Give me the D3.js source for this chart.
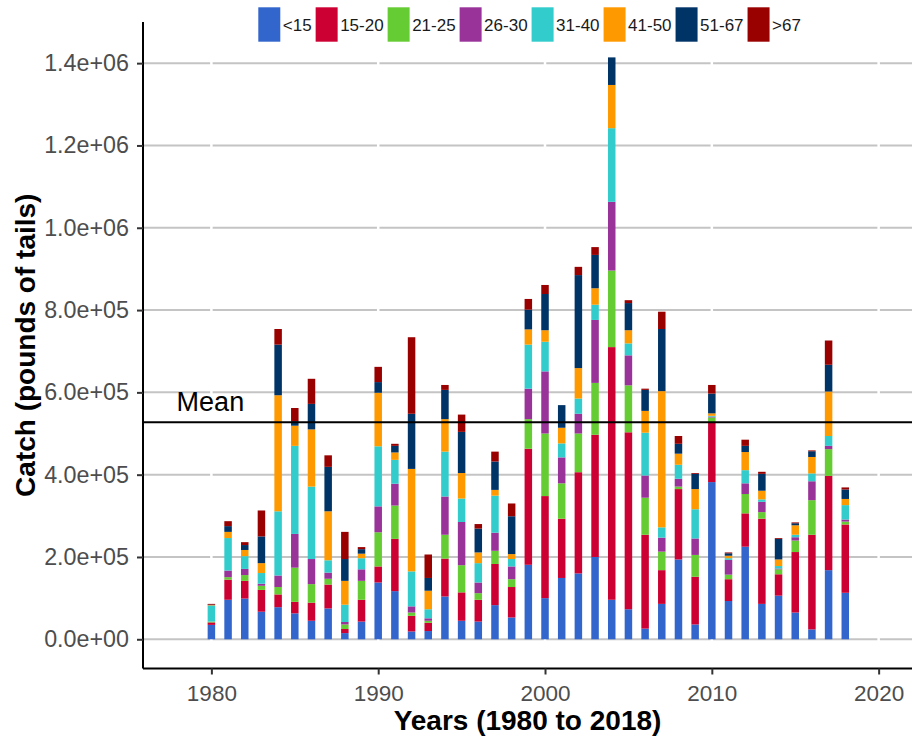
<!DOCTYPE html>
<html>
<head>
<meta charset="utf-8">
<script src="https://cdn.jsdelivr.net/npm/d3@7"></script>
<style>
  body { margin: 0; background: #fff; }
  text { font-family: "Liberation Sans", Arial, sans-serif; }
</style>
</head>
<body>
<div id="chart"></div>
<script>
// catch by size class, thousands of pounds of tails, 1980-2018
var years = d3.range(1980, 2019);
var groups = ["<15", "15-20", "21-25", "26-30", "31-40", "41-50", "51-67", ">67"];
var colors = ["#3366CC", "#CC0033", "#66CC33", "#993399", "#33CCCC", "#FF9900", "#003366", "#990000"];

var lt15   = [35, 96, 99, 67, 78, 63, 45, 75, 15, 43, 138, 117, 19, 20, 104, 45, 43, 83, 53, 181, 100, 149, 160, 200, 96, 73, 26, 86, 194, 36, 382, 93, 225, 86, 106, 65, 24, 168, 113];
var s15_20 = [6, 49, 43, 53, 31, 28, 44, 58, 10, 53, 39, 127, 38, 20, 92, 69, 53, 100, 74, 282, 248, 144, 246, 297, 614, 430, 228, 82, 171, 116, 144, 53, 81, 207, 52, 147, 230, 229, 166];
var s21_25 = [2, 6, 14, 10, 18, 83, 45, 14, 11, 46, 83, 81, 8, 5, 58, 66, 16, 32, 19, 72, 152, 86, 94, 126, 186, 114, 90, 45, 6, 53, 13, 11, 47, 16, 12, 28, 84, 65, 7];
var s26_30 = [0, 16, 15, 5, 28, 82, 61, 15, 6, 28, 63, 53, 15, 6, 93, 105, 26, 44, 31, 74, 151, 63, 48, 153, 167, 73, 54, 34, 19, 40, 2, 36, 26, 25, 2, 8, 46, 8, 5];
var s31_40 = [39, 79, 31, 26, 156, 214, 176, 30, 42, 27, 146, 58, 85, 22, 109, 57, 47, 90, 18, 107, 72, 34, 37, 37, 179, 29, 104, 25, 34, 71, 2, 4, 32, 6, 6, 6, 19, 24, 35];
var s41_50 = [1, 15, 15, 24, 282, 49, 139, 119, 58, 11, 130, 18, 249, 45, 79, 62, 26, 14, 12, 37, 28, 38, 74, 40, 105, 32, 53, 331, 27, 49, 6, 6, 44, 21, 16, 23, 40, 108, 15];
var s51_67 = [1, 14, 12, 65, 123, 11, 62, 108, 53, 11, 26, 16, 134, 31, 71, 100, 58, 69, 92, 48, 88, 55, 226, 81, 67, 66, 51, 151, 24, 37, 48, 6, 15, 41, 50, 5, 14, 65, 23];
var gt67   = [2, 12, 7, 63, 38, 32, 61, 28, 66, 5, 37, 5, 186, 57, 12, 42, 11, 24, 31, 26, 22, 0, 20, 19, 0, 7, 3, 42, 19, 2, 21, 2, 15, 5, 2, 2, 2, 59, 5];

var yTicks = [0, 200000, 400000, 600000, 800000, 1000000, 1200000, 1400000];
var xTicks = [1980, 1990, 2000, 2010, 2020];

var series = [lt15, s15_20, s21_25, s26_30, s31_40, s41_50, s51_67, gt67];
var table = years.map(function(y, i) {
  var row = { year: y };
  groups.forEach(function(g, k) { row[g] = series[k][i] * 1000; });
  return row;
});
var totals = table.map(function(r) { return d3.sum(groups, function(g) { return r[g]; }); });
var meanCatch = d3.mean(totals);

var W = 912, H = 743;
var pL = 143, pR = 912, pT = 22, pB = 668.5;

var svg = d3.select('#chart').append('svg').attr('width', W).attr('height', H);
svg.append('rect').attr('width', W).attr('height', H).attr('fill', '#fff');

var x = d3.scaleLinear().domain([1975.9, 2022]).range([pL, pR]);
var y = d3.scaleLinear().domain([-71000, 1500000]).range([pB, pT]);

// grid
var grid = svg.append('g');
grid.selectAll('.hg').data(yTicks).enter().append('line')
  .attr('x1', pL).attr('x2', pR)
  .attr('y1', function(d) { return y(d); }).attr('y2', function(d) { return y(d); })
  .attr('stroke', '#c4c4c4').attr('stroke-width', 2);
grid.selectAll('.vg').data(xTicks).enter().append('line')
  .attr('y1', pT).attr('y2', pB)
  .attr('x1', function(d) { return x(d); }).attr('x2', function(d) { return x(d); })
  .attr('stroke', '#fff').attr('stroke-width', 2.5);

// bars
var stack = d3.stack().keys(groups);
var layers = stack(table);
var bw = 0.45;
svg.selectAll('.layer').data(layers).enter().append('g')
  .attr('fill', function(d, i) { return colors[i]; })
  .selectAll('rect').data(function(d) { return d; }).enter().append('rect')
  .attr('x', function(d) { return x(d.data.year - bw / 2); })
  .attr('width', function(d) { return x(d.data.year + bw / 2) - x(d.data.year - bw / 2); })
  .attr('y', function(d) { return y(d[1]); })
  .attr('height', function(d) { return y(d[0]) - y(d[1]); });

// mean line
svg.append('line').attr('x1', pL).attr('x2', pR)
  .attr('y1', y(meanCatch)).attr('y2', y(meanCatch))
  .attr('stroke', '#000').attr('stroke-width', 2);
svg.append('text').attr('x', x(1980) - 1).attr('y', y(meanCatch) - 11)
  .attr('text-anchor', 'middle').style('font-size', '27px').attr('fill', '#000')
  .text('Mean');

// axes
var fmt = function(v) { return d3.format('.1e')(v).replace(/e([+-])(\d)$/, 'e$10$2'); };
var yAxis = svg.append('g').attr('transform', 'translate(' + pL + ',0)')
  .call(d3.axisLeft(y).tickValues(yTicks).tickFormat(fmt).tickSize(6).tickPadding(8));
var xAxis = svg.append('g').attr('transform', 'translate(0,' + pB + ')')
  .call(d3.axisBottom(x).tickValues(xTicks).tickFormat(d3.format('d')).tickSize(6).tickPadding(4));
[yAxis, xAxis].forEach(function(a) {
  a.select('.domain').attr('stroke', '#000').attr('stroke-width', 2);
  a.selectAll('.tick line').attr('stroke', '#333').attr('stroke-width', 2);
  a.selectAll('.tick text').attr('fill', '#4d4d4d')
    .style('font-family', '"Liberation Sans", Arial, sans-serif');
});
yAxis.selectAll('.tick text').style('font-size', '23.3px');
xAxis.selectAll('.tick text').style('font-size', '22.5px');
yAxis.select('.domain').attr('d', 'M0,' + pT + 'V' + pB);
xAxis.select('.domain').attr('d', 'M' + pL + ',0H' + pR);
xAxis.selectAll('.tick text').attr('dy', null).attr('y', 32);

svg.append('text').attr('x', (pL + pR) / 2).attr('y', 730)
  .attr('text-anchor', 'middle').style('font-size', '28px').style('font-weight', 'bold')
  .text('Years (1980 to 2018)');
svg.append('text').attr('transform', 'translate(35,' + (pT + pB) / 2 + ') rotate(-90)')
  .attr('text-anchor', 'middle').style('font-size', '28px').style('font-weight', 'bold')
  .text('Catch (pounds of tails)');

// legend
var lg = svg.append('g');
var lx = 258.3;
groups.forEach(function(g, i) {
  lg.append('rect').attr('x', lx).attr('y', 7.3).attr('width', 22).attr('height', 34.4).attr('fill', colors[i]);
  var t = lg.append('text').attr('x', lx + 24.5).attr('y', 30.5).style('font-size', '17px').attr('fill', '#1a1a1a').text(g);
  lx += 24.5 + t.node().getComputedTextLength() + 4;
});
</script>
</body>
</html>
